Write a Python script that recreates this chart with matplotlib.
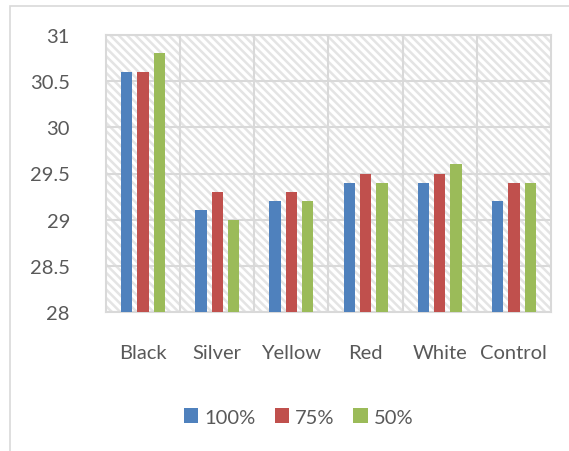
import matplotlib
matplotlib.use("Agg")
import matplotlib.pyplot as plt
import numpy as np
from matplotlib.patches import Rectangle

categories = ["Black", "Silver", "Yellow", "Red", "White", "Control"]
series_names = ["100%", "75%", "50%"]
vals_100 = [30.6, 29.1, 29.2, 29.4, 29.4, 29.2]
vals_75 = [30.6, 29.3, 29.3, 29.5, 29.5, 29.4]
vals_50 = [30.8, 29.0, 29.2, 29.4, 29.6, 29.4]
colors = ["#4F81BD", "#C0504D", "#9BBB59"]

plt.rcParams["font.family"] = ["Lato", "DejaVu Sans"]
plt.rcParams["hatch.linewidth"] = 1.8
text_col = "#595959"
grid_col = "#D9D9D9"

fig = plt.figure(figsize=(5.69, 4.52), dpi=100)
# outer chart frame
fig.patches.append(Rectangle((10 / 569, -0.05), 1.2, 1 - 7 / 452 + 0.05,
                             transform=fig.transFigure, fill=False,
                             edgecolor="#D9D9D9", linewidth=1.2))

ax = fig.add_axes([106 / 569, 1 - 313 / 452, 445 / 569, 277 / 452])
ax.set_xlim(-0.5, len(categories) - 0.5)
ax.set_ylim(28, 31)

# hatched plot-area background
ax.add_patch(Rectangle((0, 0), 1, 1, transform=ax.transAxes, facecolor="white",
                       edgecolor="#E4E4E4", linewidth=0, hatch="\\\\\\\\", zorder=0))

x = np.arange(len(categories))
width = 0.152
pitch = 0.22
for i, (vals, c, name) in enumerate(zip([vals_100, vals_75, vals_50], colors, series_names)):
    ax.bar(x + (i - 1) * pitch, np.array(vals) - 28, width, bottom=28, color=c,
           label=name, zorder=3)

ax.set_yticks(np.arange(28, 31.01, 0.5))
ax.set_yticklabels(["28", "28.5", "29", "29.5", "30", "30.5", "31"])
ax.yaxis.grid(True, color=grid_col, linewidth=1.5, zorder=1)
for b in np.arange(0.5, len(categories) - 0.5, 1):
    ax.axvline(b, color=grid_col, linewidth=1.5, zorder=1)
ax.set_axisbelow(True)

ax.set_xticks(x)
ax.set_xticklabels(categories)
ax.tick_params(axis="both", length=0, labelsize=14.5, colors=text_col)
ax.tick_params(axis="x", pad=23)
ax.tick_params(axis="y", pad=26)
for lab in ax.get_yticklabels():
    lab.set_horizontalalignment("right")

for s in ax.spines.values():
    s.set_color(grid_col)
    s.set_linewidth(1.5)

leg = fig.legend(loc="center", bbox_to_anchor=(0.525, 1 - 418 / 452), ncol=3,
                 frameon=False, fontsize=14.5, handlelength=0.7, handleheight=0.7,
                 handletextpad=0.3, columnspacing=0.95, labelcolor=text_col)

fig.savefig("out.png", dpi=100)
